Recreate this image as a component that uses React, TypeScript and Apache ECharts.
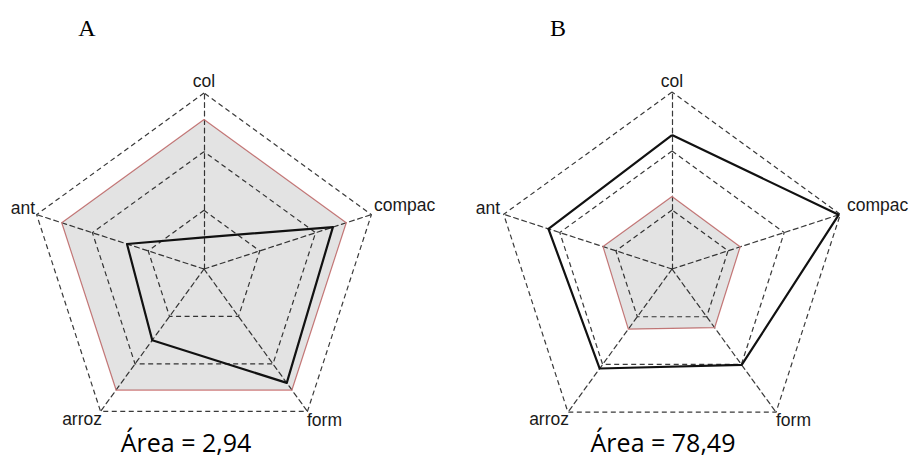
import React, { useEffect, useRef } from "react";
import * as echarts from "echarts";

const indicators = ["col", "ant", "arroz", "form", "compac"];
const redA = [0.85, 0.85, 0.85, 0.85, 0.85];
const blackA = [0.18, 0.46, 0.5, 0.8, 0.77];
const redB = [0.41, 0.41, 0.42, 0.41, 0.405];
const blackB = [0.757, 0.734, 0.695, 0.67, 0.99];
const panelTitles = ["A", "B"];
const areaLabels = ["Área = 2,94", "Área = 78,49"];

export default function App() {
  const ref = useRef<HTMLDivElement>(null);
  useEffect(() => {
    if (!ref.current) return;
    const chart = echarts.init(ref.current, undefined, { renderer: "svg" });
    const dash = [5, 3.5];
    const radarBase = {
      indicator: indicators.map((n) => ({ name: n, min: 0, max: 1 })),
      splitNumber: 3,
      shape: "polygon",
      startAngle: 90,
      axisName: { show: false },
      axisLine: { show: true, lineStyle: { color: "#3a3a3a", width: 1.2, type: dash } },
      splitLine: { show: true, lineStyle: { color: "#3a3a3a", width: 1.2, type: dash } },
      splitArea: { show: false },
      axisTick: { show: false },
      axisLabel: { show: false },
    };
    const labelFont = { fontFamily: "Liberation Sans", fontSize: 17.5, fill: "#1a1a1a" };
    const axisLabelPos = [
      [
        { x: 204, y: 81, align: "center" },
        { x: 35, y: 208, align: "right" },
        { x: 102, y: 419, align: "right" },
        { x: 307, y: 420, align: "left" },
        { x: 374, y: 205, align: "left" },
      ],
      [
        { x: 672, y: 81, align: "center" },
        { x: 500, y: 208, align: "right" },
        { x: 569, y: 419, align: "right" },
        { x: 776, y: 420, align: "left" },
        { x: 847, y: 205, align: "left" },
      ],
    ];
    const graphics: any[] = [];
    axisLabelPos.forEach((panel) => {
      panel.forEach((p, i) => {
        graphics.push({
          type: "text",
          x: p.x,
          y: p.y,
          style: { ...labelFont, text: indicators[i], align: p.align, verticalAlign: "middle" },
        });
      });
    });
    const titleX = [87, 558];
    panelTitles.forEach((t, i) => {
      graphics.push({
        type: "text",
        x: titleX[i],
        y: 28,
        style: { text: t, fontFamily: "Liberation Serif", fontSize: 24, fill: "#000", align: "center", verticalAlign: "middle" },
      });
    });
    const areaX = [186, 663];
    areaLabels.forEach((t, i) => {
      graphics.push({
        type: "text",
        x: areaX[i],
        y: 442,
        style: { text: t, fontFamily: "Open Sans", fontSize: 25, fill: "#000", align: "center", verticalAlign: "middle" },
      });
    });

    const redStyle = {
      lineStyle: { color: "#cf7f7f", width: 1.2 },
      areaStyle: { color: "rgba(0,0,0,0.11)", opacity: 1 },
    };
    const blackStyle = { lineStyle: { color: "#111", width: 2.2 } };

    chart.setOption({
      animation: false,
      backgroundColor: "#fff",
      radar: [
        { ...radarBase, center: [204, 269], radius: 176 },
        { ...radarBase, center: [672, 269], radius: 177 },
      ],
      series: [
        {
          type: "radar",
          radarIndex: 0,
          symbol: "none",
          data: [
            { value: redA, name: "A ref", ...redStyle },
            { value: blackA, name: "A obs", ...blackStyle },
          ],
        },
        {
          type: "radar",
          radarIndex: 1,
          symbol: "none",
          data: [
            { value: redB, name: "B ref", ...redStyle },
            { value: blackB, name: "B obs", ...blackStyle },
          ],
        },
      ],
      graphic: graphics,
    });
    return () => chart.dispose();
  }, []);
  return (
    <div
      ref={ref}
      style={{ position: "absolute", left: 0, top: 0, width: 912, height: 466 }}
    />
  );
}
